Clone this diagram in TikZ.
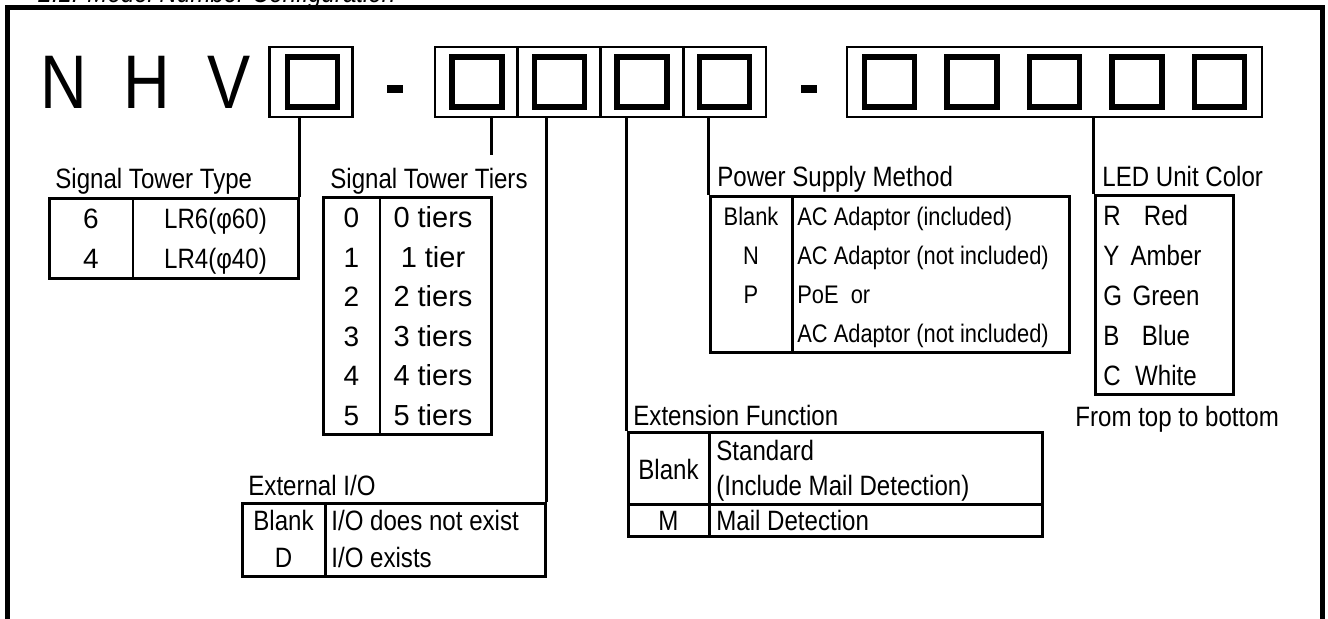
\documentclass[tikz,border=0pt]{standalone}
\usepackage{fontspec}
\setmainfont[FakeStretch=0.86]{Liberation Sans}
\newfontfamily\widefont{Liberation Sans}
\newfontfamily\letterfont[FakeStretch=0.85]{Liberation Sans}
\usetikzlibrary{positioning,calc}
\tikzset{frame/.style={line width=2.5pt,line join=miter},
	cell/.style={draw,line width=1.4pt,minimum width=41.4pt,minimum height=35pt,inner sep=0pt},
	sq/.style={draw,line width=2.8pt,minimum size=25pt,inner sep=0pt},
	hyphen/.style={fill,minimum width=8pt,minimum height=4pt,inner sep=0pt},
	letter/.style={font=\letterfont\fontsize{38}{40}\selectfont,inner sep=0pt},
	conn/.style={line width=1.5pt},
	tbl/.style={draw,line width=1.5pt,inner sep=0pt},
	div/.style={line width=0.8pt},
	head/.style={anchor=base west,inner sep=0pt,font=\fontsize{14}{16}\selectfont},
	entry/.style={anchor=base,inner sep=0pt,font=\fontsize{14}{16}\selectfont},
	wide entry/.style={entry,font=\widefont\fontsize{14}{16}\selectfont},
	small entry/.style={entry,font=\fontsize{12.7}{14}\selectfont},
}

\begin{document}
\begin{tikzpicture}[x=0.5pt,y=-0.5pt]
				\useasboundingbox (0,0) rectangle (1328,619);
				% frame
				\node[head,font=\fontsize{14}{16}\selectfont\itshape] (title) at (38,2.5) {2.1. Model Number Configuration};
				\draw[frame] (7.5,640) -- (7.5,7.5) -- (1322,7.5) -- (1322,640);
				
				% model number
				\node[letter] (N) at (63.5,82.5) {N};
				\node[letter] (H) at (146.5,82.5) {H};
				\node[letter] (V) at (229,82.5) {V};
				\node[cell] (b1) at (311,82) {};
				\node[sq] (s1) at (312.5,82) {};
				\node[hyphen] (h1) at (395,89) {};
				\foreach \i in {1,...,4} {
					\node[cell] (c\i) at (393.65+82.75*\i,82) {};
					\node[sq] (s2\i) at (394.5+82.5*\i,82) {};
				}
				\node[hyphen] (h2) at (808.5,89.5) {};
				\node[cell,minimum width=207.5pt] (g3) at (1054.5,82) {};
				\foreach \i in {1,...,5}
					\node[sq] (s3\i) at (807+82.5*\i,82) {};
				
				% signal tower type
				\node[head] (typehd) at (55,189) {Signal Tower Type};
				\node[tbl,minimum width=124.5pt,minimum height=40pt] (type) at (173.5,239) {};
				\draw[div] (133,199) -- (133,279);
				\foreach \k/\v [count=\i] in {6/LR6(φ60),4/LR4(φ40)} {
					\node[wide entry] (typek\i) at (91,189+40*\i) {\k};
					\node[entry] (typev\i) at (215.5,189+40*\i) {\v};
				}
				
				% signal tower tiers
				\node[head] (tiershd) at (330,189) {Signal Tower Tiers};
				\node[tbl,minimum width=84pt,minimum height=118.5pt] (tiers) at (407,316.5) {};
				\coordinate (tierstop) at (491,155);
				\draw[div] (380,198) -- (380,435);
				\foreach \k/\v [count=\i] in {0/0 tiers,1/1 tier,2/2 tiers,3/3 tiers,4/4 tiers,5/5 tiers} {
					\node[wide entry] (tiersk\i) at (351.5,188.25+39.5*\i) {\k};
					\node[wide entry,font=\widefont\fontsize{14.5}{16}\selectfont] (tiersv\i) at (433,188.25+39.5*\i) {\v};
				}
				
				% power supply method
				\node[head] (pwrhd) at (717,187) {Power Supply Method};
				\node[tbl,minimum width=179.5pt,minimum height=78pt] (pwr) at (889.5,275) {};
				\draw[conn] (792,197) -- (792,353);
				\foreach \k/\v [count=\i] in {Blank/AC Adaptor (included),N/AC Adaptor (not included),P/PoE\ \ or,{}/AC Adaptor (not included)} {
					\node[small entry] (pwrk\i) at (751,186.1+39*\i) {\k};
					\node[small entry,anchor=base west] (pwrv\i) at (797,186.1+39*\i) {\v};
				}
				
				% led unit color
				\node[head] (ledhd) at (1102,187) {LED Unit Color};
				\node[tbl,minimum width=69pt,minimum height=99.5pt] (led) at (1164,295.5) {};
				\foreach \k/\v [count=\i] in {R/Red,Y/Amber,G/Green,B/Blue,C/White} {
					\node[entry,anchor=base west] (ledk\i) at (1103,186.1+39.8*\i) {\k};
					\node[entry] (ledv\i) at (1166,186.1+39.8*\i) {\v};
				}
				\node[head] (lednote) at (1075,427) {From top to bottom};
				
				% extension function
				\node[head] (exthd) at (633,426) {Extension Function};
				\node[tbl,minimum width=207pt,minimum height=52pt] (ext) at (835,485) {};
				\draw[conn] (709,433) -- (709,537) (628,505) -- (1042,505);
				\node[entry,anchor=center] (extk1) at (668.5,469) {Blank};
				\node[entry,anchor=base west] (extv1) at (716,461) {Standard};
				\node[entry,anchor=base west] (extv1b) at (716,496) {(Include Mail Detection)};
				\node[entry,anchor=center] (extk2) at (668.5,521) {M};
				\node[entry,anchor=base west] (extv2) at (716,531) {Mail Detection};
				
				% external i/o
				\node[head] (iohd) at (248,496) {External I/O};
				\node[tbl,minimum width=151.5pt,minimum height=36.5pt] (io) at (393.5,540.5) {};
				\draw[conn] (325,504) -- (325,577);
				\node[entry] (iok1) at (283.5,531) {Blank};
				\node[entry] (iok2) at (283.5,567.5) {D};
				\node[entry,anchor=base west] (iov1) at (331,531) {I/O does not exist};
				\node[entry,anchor=base west] (iov2) at (331,567.5) {I/O exists};
				
				% connectors
				\path[draw,conn]
				(b1.south -| type.east) edge (type.north east)
				(c1.south -| tierstop) edge (tierstop)
				(c2.south -| io.east) edge (io.north east)
				(c3.south -| ext.west) edge (ext.north west)
				(c4.south -| pwr.west) edge (pwr.north west)
				(g3.south -| led.west) edge (led.north west);
				
			\end{tikzpicture}
\end{document}
